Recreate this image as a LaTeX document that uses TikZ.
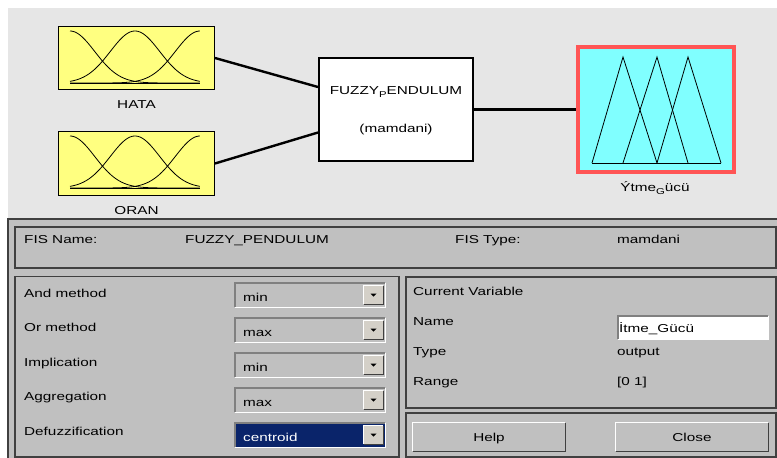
\documentclass[tikz,border=0pt]{standalone}
\usepackage{fontspec}
\setmainfont{Liberation Sans}[FakeStretch=1.33]
\definecolor{topbg}{HTML}{E6E6E6}
\definecolor{panelbg}{HTML}{C0C0C0}
\definecolor{mfyellow}{HTML}{FFFF80}
\definecolor{mfcyan}{HTML}{80FFFF}
\definecolor{selred}{HTML}{FF5555}
\definecolor{edgedark}{HTML}{404040}
\definecolor{edgemid}{HTML}{808080}
\definecolor{btnface}{HTML}{D4D0C8}
\definecolor{selblue}{HTML}{0A246A}
\tikzset{
  txt/.style={inner sep=0pt, anchor=base west},
  ctxt/.style={inner sep=0pt, anchor=base},
  inbox/.style={draw=black, line width=1pt, fill=mfyellow, minimum width=156pt, minimum height=63pt, inner sep=0pt},
  fisbox/.style={draw=black, line width=2pt, fill=white, minimum width=154pt, minimum height=103pt, inner sep=0pt},
  outbox/.style={draw=selred, line width=4pt, fill=mfcyan, minimum width=156pt, minimum height=125pt, inner sep=0pt},
  wire/.style={line width=2.4pt, black},
  mfline/.style={line width=0.8pt, black},
  panel/.style={draw=edgedark, line width=1.3pt},
  ddbox/.style={inner sep=0pt, minimum width=150pt, minimum height=24pt},
  arrowbtn/.style={inner sep=0pt, fill=btnface, minimum width=19pt, minimum height=18pt},
  pushbtn/.style={inner sep=0pt, fill=panelbg, minimum height=28pt},
}
\newcommand\lowsub[1]{\raisebox{-3.5pt}{\fontsize{8.5}{9}\selectfont #1}}
\newcommand\mfcurves[1]{%
  \draw[mfline] plot[domain=0:1,samples=70,smooth] ({70+130*\x},{#1+83-52*exp(-((\x)^2)/0.0722)});
  \draw[mfline] plot[domain=0:1,samples=70,smooth] ({70+130*\x},{#1+83-52*exp(-((\x-0.5)^2)/0.0722)});
  \draw[mfline] plot[domain=0:1,samples=70,smooth] ({70+130*\x},{#1+83-52*exp(-((\x-1)^2)/0.0722)});
  \draw[mfline] (70,#1+83) -- (200,#1+83);
}
\newcommand\sunken[1]{%
  \draw[white, line width=1.2pt] (#1.south west) -- (#1.south east) -- (#1.north east);
  \draw[edgemid, line width=1.6pt] (#1.south west) -- (#1.north west) -- (#1.north east);
}
\newcommand\raised[1]{%
  \draw[edgedark, line width=1.2pt] (#1.south west) -- (#1.south east) -- (#1.north east);
  \draw[white, line width=1.2pt] (#1.south west) -- (#1.north west) -- (#1.north east);
}
% name, top y, text, fill, text colour
\newcommand\dropdown[5]{%
  \node[ddbox, fill=#4] (#1) at (310,#2+12) {};
  \sunken{#1}
  \node[txt, text=#5] (#1t) at (243,#2+18) {#3};
  \node[arrowbtn] (#1b) at (373.5,#2+12) {};
  \raised{#1b}
  \fill ([xshift=-3pt,yshift=1.5pt]#1b.center) -- ([xshift=3pt,yshift=1.5pt]#1b.center) -- ([yshift=-1.5pt]#1b.center) -- cycle;
}
\begin{document}
\begin{tikzpicture}[x=1pt, y=-1pt, font=\fontsize{11.5}{13}\selectfont]
\useasboundingbox (0,0) rectangle (777,458);
\fill[white] (0,0) rectangle (777,458);
% upper diagram area
\fill[topbg] (8,8) rectangle (777,219);
\node[inbox] (hata) at (136.5,58) {};
\node[inbox, minimum height=64pt] (oran) at (136.5,163.5) {};
\mfcurves{0}
\mfcurves{105}
\node[ctxt] (hatal) at (136.5,108) {HATA};
\node[ctxt] (oranl) at (136.5,214) {ORAN};
\node[fisbox] (fis) at (396,109.5) {};
\node[ctxt] (fist) at (396,94) {FUZZY\lowsub{P}ENDULUM};
\node[ctxt] (fisk) at (396,132) {(mamdani)};
\node[outbox] (out) at (656,109.5) {};
\draw[mfline] (592,163) -- (623,57) -- (657,163);
\draw[mfline] (623,163) -- (657,57) -- (688,163);
\draw[mfline] (657,163) -- (688,57) -- (721,163);
\draw[mfline] (592,163) -- (721,163);
\node[ctxt] (outl) at (655,191) {Ýtme\lowsub{G}ücü};
\coordinate (fin1) at ([yshift=22.5pt]fis.west);
\coordinate (fin2) at ([yshift=-23pt]fis.west);
\draw[wire] (hata.east) -- (fin1);
\draw[wire] (oran.east) -- (fin2);
\draw[wire] (fis.east) -- (out.west);
% lower panel
\fill[panelbg] (8,219) rectangle (777,458);
\draw[edgedark, line width=2pt] (8,458) -- (8,219) -- (777,219);
\draw[panel] (15,227) rectangle (776,268);
\draw[panel] (15,276.5) rectangle (399,457);
\draw[panel] (406,277) rectangle (776,408);
\draw[panel] (406,413) rectangle (776,457);
\node[txt] (fisname) at (24,243) {FIS Name:};
\node[txt] (fisnamev) at (185,243) {FUZZY\_PENDULUM};
\node[txt] (fistype) at (455,243) {FIS Type:};
\node[txt] (fistypev) at (617,243) {mamdani};
\node[txt] (andm) at (24,297) {And method};
\node[txt] (orm) at (24,331.5) {Or method};
\node[txt] (impm) at (24,366) {Implication};
\node[txt] (aggm) at (24,400.5) {Aggregation};
\node[txt] (defm) at (24,435) {Defuzzification};
\dropdown{dda}{283}{min}{panelbg}{black}
\dropdown{ddo}{318}{max}{panelbg}{black}
\dropdown{ddi}{353}{min}{panelbg}{black}
\dropdown{ddg}{388}{max}{panelbg}{black}
\dropdown{ddd}{423}{centroid}{selblue}{white}
\node[txt] (curv) at (413,295) {Current Variable};
\node[txt] (namel) at (413,325) {Name};
\node[txt] (typel) at (413,355) {Type};
\node[txt] (rangel) at (413,385) {Range};
\node[ddbox, fill=white, minimum height=23pt] (namef) at (693,327.5) {};
\sunken{namef}
\node[txt] (namev) at (619,332) {İtme\_Gücü};
\node[txt] (typev) at (617,355) {output};
\node[txt] (rangev) at (617,385) {[0 1]};
\node[pushbtn, minimum width=152pt] (help) at (489,437) {};
\raised{help}
\node[ctxt] (helpt) at (489,441) {Help};
\node[pushbtn, minimum width=152pt] (close) at (692,437) {};
\raised{close}
\node[ctxt] (closet) at (692,441) {Close};
\end{tikzpicture}
\end{document}
